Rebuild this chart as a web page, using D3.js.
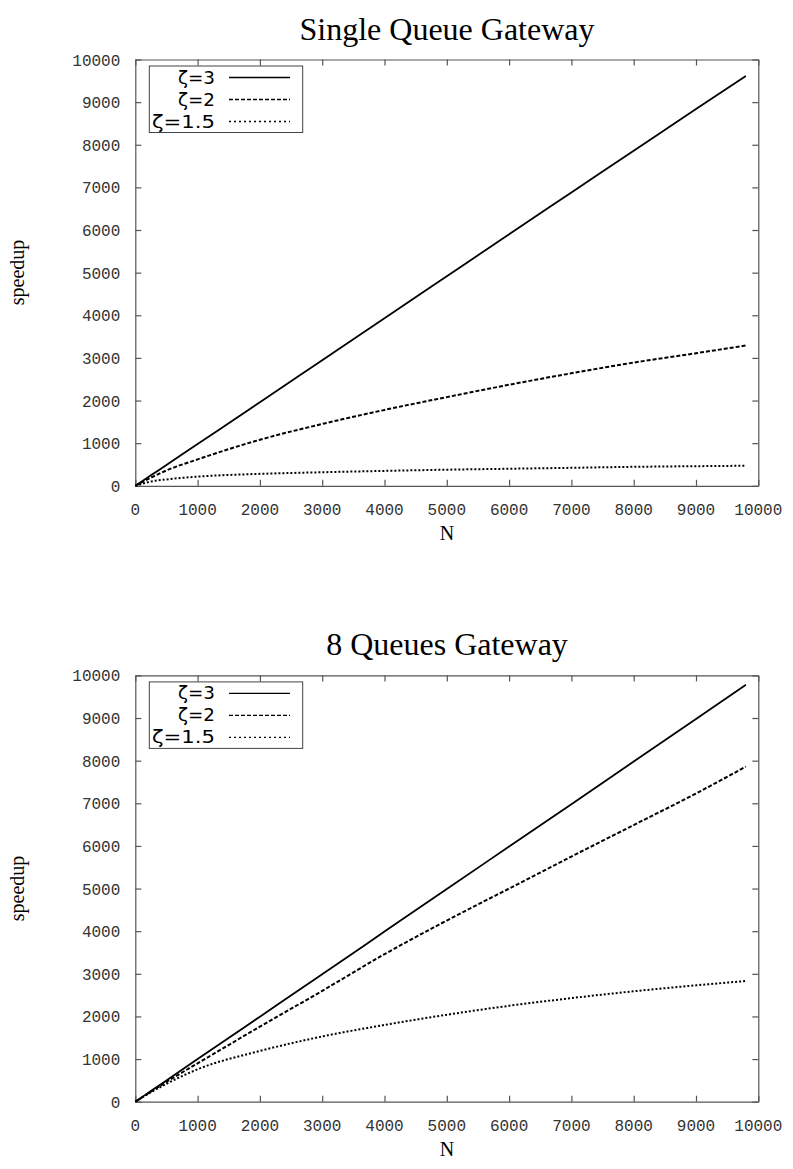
<!DOCTYPE html>
<html>
<head>
<meta charset="utf-8">
<script src="https://cdn.jsdelivr.net/npm/d3@7"></script>
<style>
  body { margin: 0; background: #fff; }
  .tick-label { font-family: "Liberation Mono", monospace; font-size: 16px; fill: #333; }
  .title { font-family: "Liberation Serif", serif; font-size: 32px; fill: #000; }
  .axis-title { font-family: "Liberation Serif", serif; font-size: 20px; fill: #000; }
  .legend-text { font-family: "DejaVu Sans", sans-serif; font-size: 17px; fill: #000; }
</style>
</head>
<body>
<script>
// N values shared by every series
const nValues = [0, 250, 500, 1000, 2000, 3000, 4000, 5000, 6000, 7000, 8000, 9000, 9800];

// single queue gateway
const singleZeta3  = [0, 245, 490, 980, 1960, 2945, 3930, 4915, 5900, 6880, 7860, 8840, 9615];
const singleZeta2  = [0, 190, 360, 620, 1080, 1450, 1780, 2080, 2370, 2640, 2890, 3110, 3290];
const singleZeta15 = [0, 100, 150, 215, 280, 318, 350, 378, 400, 422, 445, 460, 470];

// 8 queues gateway
const multiZeta3  = [0, 250, 500, 1000, 1995, 2990, 3990, 4990, 5985, 6980, 7980, 8975, 9780];
const multiZeta2  = [0, 235, 465, 900, 1760, 2600, 3460, 4250, 5000, 5750, 6490, 7230, 7860];
const multiZeta15 = [0, 220, 420, 760, 1190, 1530, 1800, 2040, 2250, 2430, 2590, 2730, 2830];

const legendLabels = ["\u03b6=3", "\u03b6=2", "\u03b6=1.5"];
const xTicks = [0, 1000, 2000, 3000, 4000, 5000, 6000, 7000, 8000, 9000, 10000];
const yTicks = [0, 1000, 2000, 3000, 4000, 5000, 6000, 7000, 8000, 9000, 10000];

const styles = [
  { dash: null,  legendDash: null,  width: 1.8 },
  { dash: "4,2", legendDash: "4,2", width: 2.0 },
  { dash: "2,2", legendDash: "2,3", width: 2.0 }
];

const svg = d3.select("body").append("svg")
  .attr("width", 793)
  .attr("height", 1169);

/**
 * draws one framed panel with its title, axes, three curves and legend
 */
function drawPanel(top, title, series) {
  const left = 135.3, right = 758.3;
  const plotTop = top, plotBottom = top + 426.3;

  const x = d3.scaleLinear().domain([0, 10000]).range([left, right]);
  const y = d3.scaleLinear().domain([0, 10000]).range([plotBottom, plotTop]);

  const g = svg.append("g");

  // title
  g.append("text").attr("class", "title")
    .attr("x", 447).attr("y", top - 20)
    .attr("text-anchor", "middle")
    .text(title);

  // axes, ticks inward on all four sides
  const tickLen = 6;
  g.append("g")
    .attr("transform", "translate(0," + plotBottom + ")")
    .call(d3.axisBottom(x).tickValues(xTicks).tickSizeInner(-tickLen).tickSizeOuter(0).tickFormat(""));
  g.append("g")
    .attr("transform", "translate(0," + plotTop + ")")
    .call(d3.axisTop(x).tickValues(xTicks).tickSizeInner(-tickLen).tickSizeOuter(0).tickFormat(""));
  g.append("g")
    .attr("transform", "translate(" + left + ",0)")
    .call(d3.axisLeft(y).tickValues(yTicks).tickSizeInner(-tickLen).tickSizeOuter(0).tickFormat(""));
  g.append("g")
    .attr("transform", "translate(" + right + ",0)")
    .call(d3.axisRight(y).tickValues(yTicks).tickSizeInner(-tickLen).tickSizeOuter(0).tickFormat(""));
  g.selectAll(".domain, .tick line").attr("stroke", "#555").attr("stroke-width", 1.2);

  // tick labels
  g.selectAll(".xlab").data(xTicks).enter().append("text")
    .attr("class", "tick-label")
    .attr("x", d => x(d))
    .attr("y", plotBottom + 29)
    .attr("text-anchor", "middle")
    .text(d => d);
  g.selectAll(".ylab").data(yTicks).enter().append("text")
    .attr("class", "tick-label")
    .attr("x", left - 15)
    .attr("y", d => y(d) + 6)
    .attr("text-anchor", "end")
    .text(d => d);

  // axis titles
  g.append("text").attr("class", "axis-title")
    .attr("x", 447).attr("y", plotBottom + 54)
    .attr("text-anchor", "middle")
    .text("N");
  g.append("text").attr("class", "axis-title")
    .attr("transform", "translate(24," + (plotTop + 213) + ") rotate(-90)")
    .attr("text-anchor", "middle")
    .text("speedup");

  // curves
  const line = d3.line()
    .x(d => x(d[0]))
    .y(d => y(d[1]))
    .curve(d3.curveMonotoneX);
  series.forEach(function(vals, i) {
    const pts = nValues.map((n, k) => [n, vals[k]]);
    g.append("path")
      .datum(pts)
      .attr("d", line)
      .attr("fill", "none")
      .attr("stroke", "#000")
      .attr("stroke-width", styles[i].width)
      .attr("stroke-dasharray", styles[i].dash);
  });

  // legend box
  const lx = 149.3, ly = plotTop + 6.5;
  g.append("rect")
    .attr("x", lx).attr("y", ly)
    .attr("width", 153.4).attr("height", 66.5)
    .attr("fill", "#fff")
    .attr("stroke", "#444")
    .attr("stroke-width", 1);
  legendLabels.forEach(function(lab, i) {
    const cy = ly + 11.5 + i * 22;
    const txt = g.append("text").attr("class", "legend-text")
      .attr("x", 215).attr("y", cy + 6)
      .attr("text-anchor", "end")
      .text(lab);
    txt.attr("textLength", [37, 37, 63][i]).attr("lengthAdjust", "spacingAndGlyphs");
    g.append("line")
      .attr("x1", 229).attr("x2", 290)
      .attr("y1", cy).attr("y2", cy)
      .attr("stroke", "#000")
      .attr("stroke-width", 1.3)
      .attr("stroke-dasharray", styles[i].legendDash);
  });
}

drawPanel(59.5, "Single Queue Gateway", [singleZeta3, singleZeta2, singleZeta15]);
drawPanel(675.4, "8 Queues Gateway", [multiZeta3, multiZeta2, multiZeta15]);
</script>
</body>
</html>
